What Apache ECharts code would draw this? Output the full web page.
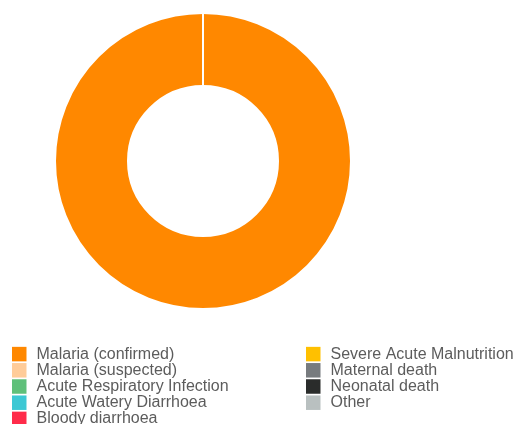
<!DOCTYPE html>
<html>
<head>
<meta charset="utf-8">
<script src="https://cdn.jsdelivr.net/npm/echarts@6/dist/echarts.min.js"></script>
<style>
html,body{margin:0;padding:0;background:#fff;}
#chart{width:515px;height:424px;}
</style>
</head>
<body>
<div id="chart"></div>
<script>
const categories = [
  'Malaria (confirmed)',
  'Malaria (suspected)',
  'Acute Respiratory Infection',
  'Acute Watery Diarrhoea',
  'Bloody diarrhoea',
  'Severe Acute Malnutrition',
  'Maternal death',
  'Neonatal death',
  'Other'
];
const values = [100, 0, 0, 0, 0, 0, 0, 0, 0];
const colors = ['#FF8800', '#FFCC99', '#5FC07A', '#3CC8D4', '#FF2B4A', '#FFC000', '#777B7E', '#2A2C2B', '#B9C0C0'];
const legendLeft = categories.slice(0, 5);
const legendRight = categories.slice(5);

const chart = echarts.init(document.getElementById('chart'), null, {renderer: 'canvas'});
const legendCommon = {
  orient: 'vertical',
  top: 346,
  height: 120,
  itemWidth: 14.5,
  itemHeight: 14.5,
  itemGap: 0,
  icon: 'rect',
  selectedMode: false,
  itemStyle: {borderWidth: 0},
  textStyle: {fontFamily: 'Liberation Sans, Arial, sans-serif', fontSize: 16, color: '#5c5c5c', lineHeight: 16.2, padding: [0, 0, 0, 5]},
  padding: 0
};
chart.setOption({
  animation: false,
  color: colors,
  legend: [
    Object.assign({}, legendCommon, {left: 12, data: legendLeft}),
    Object.assign({}, legendCommon, {left: 306, data: legendRight})
  ],
  series: [{
    type: 'pie',
    center: [203, 161],
    radius: [75, 148],
    startAngle: 90,
    clockwise: true,
    avoidLabelOverlap: false,
    label: {show: false},
    labelLine: {show: false},
    itemStyle: {borderColor: '#fff', borderWidth: 2},
    emphasis: {disabled: true},
    data: categories.map((n, i) => ({name: n, value: values[i]}))
  }]
});
</script>
</body>
</html>
